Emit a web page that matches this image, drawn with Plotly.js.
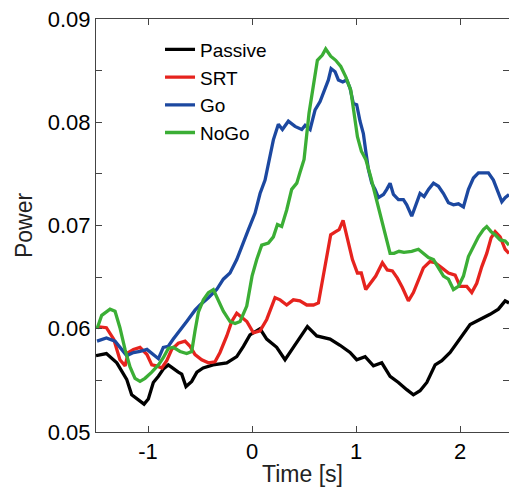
<!DOCTYPE html>
<html>
<head>
<meta charset="utf-8">
<script src="https://cdn.plot.ly/plotly-3.0.1.min.js"></script>
<style>html,body{margin:0;padding:0;background:#fff;}#chart{width:509px;height:487px;}</style>
</head>
<body>
<div id="chart"></div>
<script>
var seriesNames = ["Passive", "SRT", "Go", "NoGo"];
var seriesColors = ["#000000", "#e6231e", "#1c48a0", "#3bae35"];

var passiveT = [-1.5, -1.4, -1.3, -1.205, -1.157, -1.109, -1.038, -0.997, -0.949, -0.9, -0.853, -0.805, -0.757, -0.709, -0.676, -0.635, -0.58, -0.53, -0.47, -0.375, -0.243, -0.147, -0.083, -0.02, 0.077, 0.141, 0.237, 0.317, 0.397, 0.46, 0.532, 0.622, 0.75, 0.846, 0.942, 1.006, 1.087, 1.167, 1.247, 1.327, 1.407, 1.487, 1.551, 1.615, 1.68, 1.76, 1.824, 1.904, 2.0, 2.096, 2.19, 2.288, 2.368, 2.433, 2.47];
var passiveV = [0.0574, 0.0576, 0.0567, 0.0551, 0.0536, 0.0532, 0.0527, 0.0532, 0.0548, 0.0554, 0.0561, 0.0565, 0.0561, 0.0558, 0.0556, 0.0544, 0.0549, 0.0558, 0.0562, 0.0565, 0.0567, 0.0573, 0.0583, 0.0594, 0.0600, 0.0590, 0.0582, 0.0570, 0.0582, 0.0591, 0.0602, 0.0593, 0.0590, 0.0584, 0.0577, 0.0570, 0.0573, 0.0564, 0.0567, 0.0554, 0.0548, 0.0541, 0.0536, 0.0540, 0.0548, 0.0565, 0.0569, 0.0577, 0.0590, 0.0604, 0.0609, 0.0614, 0.0619, 0.0627, 0.0625];

var srtT = [-1.49, -1.40, -1.33, -1.27, -1.22, -1.19, -1.14, -1.077, -1.01, -0.964, -0.917, -0.868, -0.82, -0.772, -0.709, -0.644, -0.596, -0.548, -0.484, -0.42, -0.356, -0.308, -0.243, -0.195, -0.147, -0.099, -0.05, 0.013, 0.077, 0.141, 0.221, 0.27, 0.333, 0.397, 0.46, 0.526, 0.59, 0.638, 0.67, 0.708, 0.756, 0.804, 0.837, 0.875, 0.917, 0.965, 1.013, 1.05, 1.093, 1.141, 1.189, 1.253, 1.30, 1.349, 1.397, 1.445, 1.503, 1.551, 1.599, 1.647, 1.71, 1.76, 1.824, 1.888, 1.952, 2.0, 2.064, 2.112, 2.16, 2.208, 2.256, 2.298, 2.337, 2.385, 2.433, 2.47];
var srtV = [0.0602, 0.0601, 0.0590, 0.0570, 0.0564, 0.0577, 0.0580, 0.0582, 0.0575, 0.0565, 0.0564, 0.0562, 0.0569, 0.0580, 0.0586, 0.0588, 0.0583, 0.0575, 0.0570, 0.0567, 0.0568, 0.0577, 0.0593, 0.0607, 0.0615, 0.0611, 0.0607, 0.0596, 0.0598, 0.0609, 0.0630, 0.0628, 0.0623, 0.0628, 0.0627, 0.0623, 0.0623, 0.0625, 0.0644, 0.0667, 0.0691, 0.0694, 0.0696, 0.0705, 0.0686, 0.0667, 0.0654, 0.0654, 0.0638, 0.0644, 0.0651, 0.0664, 0.0657, 0.0656, 0.0649, 0.0640, 0.0627, 0.0635, 0.0648, 0.0659, 0.0665, 0.0664, 0.0659, 0.0654, 0.0652, 0.0641, 0.0641, 0.0635, 0.0644, 0.0660, 0.0673, 0.0688, 0.0694, 0.0689, 0.0677, 0.0673];

var goT = [-1.49, -1.40, -1.317, -1.253, -1.205, -1.14, -1.077, -1.01, -0.949, -0.90, -0.853, -0.805, -0.757, -0.692, -0.628, -0.548, -0.5, -0.42, -0.34, -0.276, -0.212, -0.147, -0.099, -0.035, 0.029, 0.077, 0.125, 0.157, 0.205, 0.253, 0.292, 0.349, 0.413, 0.478, 0.51, 0.558, 0.606, 0.654, 0.702, 0.734, 0.76, 0.798, 0.83, 0.872, 0.91, 0.942, 0.974, 1.006, 1.038, 1.07, 1.096, 1.119, 1.151, 1.183, 1.215, 1.263, 1.295, 1.327, 1.359, 1.407, 1.455, 1.487, 1.535, 1.583, 1.615, 1.654, 1.696, 1.744, 1.792, 1.84, 1.888, 1.936, 1.984, 2.032, 2.08, 2.128, 2.176, 2.224, 2.272, 2.32, 2.368, 2.401, 2.433, 2.47];
var goV = [0.0588, 0.0591, 0.0588, 0.0580, 0.0574, 0.0577, 0.0578, 0.0580, 0.0575, 0.0571, 0.0582, 0.0583, 0.0590, 0.0598, 0.0607, 0.0618, 0.0623, 0.0630, 0.0638, 0.0648, 0.0654, 0.0667, 0.0680, 0.0696, 0.0712, 0.0731, 0.0744, 0.0760, 0.0783, 0.0798, 0.0793, 0.0801, 0.0796, 0.0793, 0.0797, 0.0793, 0.0812, 0.0820, 0.0833, 0.0841, 0.0852, 0.0849, 0.0841, 0.0839, 0.0841, 0.0833, 0.0818, 0.0817, 0.0801, 0.0789, 0.0770, 0.0754, 0.0741, 0.0735, 0.0727, 0.0730, 0.0735, 0.0741, 0.0730, 0.0725, 0.0725, 0.0720, 0.0709, 0.0722, 0.0731, 0.0728, 0.0735, 0.0741, 0.0738, 0.0731, 0.0722, 0.0720, 0.0721, 0.0718, 0.0735, 0.0746, 0.0751, 0.0751, 0.0751, 0.0744, 0.0731, 0.0723, 0.0727, 0.0730];

var nogoT = [-1.49, -1.445, -1.365, -1.317, -1.27, -1.221, -1.173, -1.125, -1.077, -1.029, -0.964, -0.90, -0.853, -0.805, -0.757, -0.692, -0.628, -0.58, -0.548, -0.516, -0.468, -0.42, -0.372, -0.324, -0.276, -0.212, -0.163, -0.115, -0.051, 0.0, 0.045, 0.093, 0.157, 0.205, 0.244, 0.285, 0.333, 0.381, 0.43, 0.46, 0.5, 0.548, 0.596, 0.628, 0.676, 0.708, 0.756, 0.804, 0.853, 0.901, 0.949, 0.981, 1.013, 1.051, 1.093, 1.141, 1.189, 1.237, 1.285, 1.327, 1.365, 1.413, 1.46, 1.535, 1.599, 1.647, 1.696, 1.744, 1.792, 1.84, 1.888, 1.936, 1.984, 2.032, 2.08, 2.128, 2.176, 2.224, 2.256, 2.298, 2.337, 2.385, 2.433, 2.47];
var nogoV = [0.0600, 0.0613, 0.0619, 0.0617, 0.0601, 0.0580, 0.0563, 0.0552, 0.0549, 0.0552, 0.0558, 0.0565, 0.0572, 0.0581, 0.0582, 0.0578, 0.0576, 0.0578, 0.0598, 0.0616, 0.0628, 0.0635, 0.0638, 0.0627, 0.0617, 0.0607, 0.0605, 0.0607, 0.0622, 0.0651, 0.0667, 0.0681, 0.0683, 0.0689, 0.0701, 0.0699, 0.0715, 0.0735, 0.0741, 0.0751, 0.0764, 0.0809, 0.0841, 0.0860, 0.0865, 0.0871, 0.0864, 0.0860, 0.0854, 0.0844, 0.0831, 0.0809, 0.0786, 0.0772, 0.0764, 0.0747, 0.0728, 0.0709, 0.0689, 0.0673, 0.0673, 0.0675, 0.0674, 0.0675, 0.0677, 0.0673, 0.0669, 0.0667, 0.0659, 0.0651, 0.0648, 0.0638, 0.0641, 0.0651, 0.0670, 0.0680, 0.0689, 0.0696, 0.0699, 0.0694, 0.0691, 0.0686, 0.0685, 0.0681];

var xTickVals = [-1, 0, 1, 2];
var xTickText = ["-1", "0", "1", "2"];
var yTickVals = [0.05, 0.06, 0.07, 0.08, 0.09];
var yTickText = ["0.05", "0.06", "0.07", "0.08", "0.09"];

var xs = [passiveT, srtT, goT, nogoT];
var ys = [passiveV, srtV, goV, nogoV];
var traces = seriesNames.map(function (n, i) {
  return {
    x: xs[i], y: ys[i], name: n, type: "scatter", mode: "lines",
    line: {color: seriesColors[i], width: 3.3, shape: "linear"}
  };
});

var FONT = "Arial, 'Liberation Sans', Helvetica, sans-serif";
var layout = {
  width: 509, height: 487,
  margin: {l: 96, r: 0, t: 19, b: 55, pad: 0},
  paper_bgcolor: "#ffffff", plot_bgcolor: "#ffffff",
  font: {family: FONT, color: "#000", size: 22},
  showlegend: true,
  legend: {
    x: 0.155, y: 0.972, xanchor: "left", yanchor: "top",
    bgcolor: "rgba(0,0,0,0)", borderwidth: 0,
    font: {family: FONT, size: 19, color: "#000"},
    tracegroupgap: 0
  },
  xaxis: {
    range: [-1.5, 2.47], tickvals: xTickVals, ticktext: xTickText,
    ticks: "inside", ticklen: 6, tickcolor: "#444", tickwidth: 1,
    showline: true, linecolor: "#444", linewidth: 1, mirror: "ticks",
    showgrid: false, zeroline: false,
    tickfont: {family: FONT, size: 22, color: "#000"},
    title: {text: "Time [s]", font: {family: FONT, size: 23, color: "#222"}, standoff: 4}
  },
  yaxis: {
    range: [0.05, 0.09], tickvals: yTickVals, ticktext: yTickText,
    ticks: "inside", ticklen: 6, tickcolor: "#444", tickwidth: 1,
    minor: {dtick: 0.005, tick0: 0.05, ticks: "inside", ticklen: 6, tickcolor: "#444", showgrid: false},
    showline: true, linecolor: "#444", linewidth: 1, mirror: "ticks",
    showgrid: false, zeroline: false,
    tickfont: {family: FONT, size: 22, color: "#000"},
    title: {text: "Power", font: {family: FONT, size: 23, color: "#222"}, standoff: 8}
  }
};

Plotly.newPlot("chart", traces, layout, {displayModeBar: false, staticPlot: true});
</script>
</body>
</html>
